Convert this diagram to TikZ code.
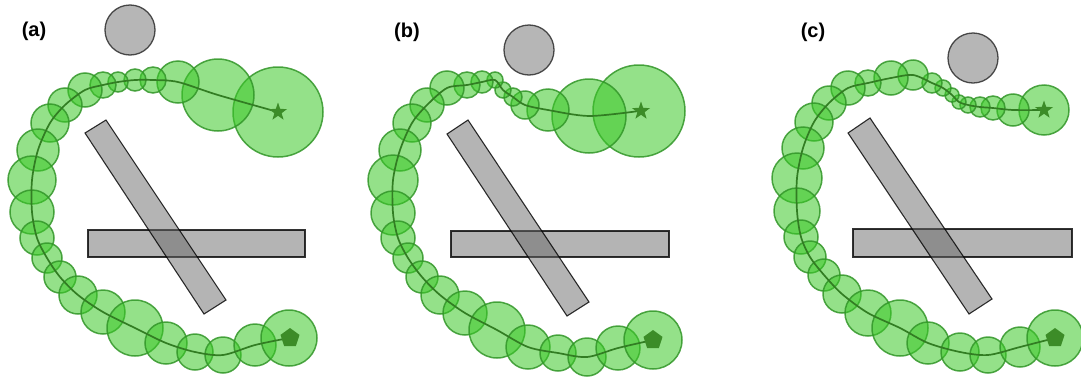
\documentclass[tikz,border=0pt]{standalone}
\usepackage{fontspec}
\setmainfont{Liberation Sans}
\usetikzlibrary{shapes.geometric}
\definecolor{gfill}{RGB}{60,200,40}
\definecolor{gedge}{RGB}{50,150,40}
\definecolor{gline}{RGB}{50,125,35}
\definecolor{gmark}{RGB}{60,140,40}
\definecolor{rfill}{RGB}{105,105,105}
\definecolor{cfill}{RGB}{182,182,182}
\definecolor{cedge}{RGB}{70,70,70}
\tikzset{
  bead/.style={fill=gfill,fill opacity=0.55,draw=gedge,draw opacity=0.85,line width=1.5},
  spine/.style={draw=gline,line width=1.7},
  bar/.style={fill=rfill,fill opacity=0.5,draw=black,draw opacity=0.8,line width=1.1},
  ball/.style={fill=cfill,draw=cedge,line width=1.3},
  startmark/.style={star,star points=5,star point ratio=2.5,fill=gmark,inner sep=0pt,minimum size=19},
  goalmark/.style={regular polygon,regular polygon sides=5,fill=gmark,inner sep=0pt,minimum size=20},
  lbl/.style={font=\fontsize{20}{22}\selectfont\bfseries,inner sep=0pt}
}
\begin{document}
\begin{tikzpicture}[x=1pt,y=-1pt]
\useasboundingbox (0,0) rectangle (1081,378);
% ---------------- panel (a)
\node[lbl] (la) at (34,31) {(a)};
\draw[ball] (130,30) circle (25);
\draw[bar] (88,230) rectangle (305,257);
\draw[bar] (85,133) -- (106,120) -- (226,300) -- (204,314) -- cycle;
\foreach \x/\y/\r in {278/112/45,218/95/36,178/82/21,153/80/13,135/80/11,118/82/10,103/85/13,85/90/17,65/105/17,50/123/19,38/150/21,32/180/24,32/212/22,37/238/17,47/258/15,60/277/16,78/295/19,103/312/22,135/328/28,166/343/21,195/352/18,223/355/18,255/345/21,289/338/28}
  \draw[bead] (\x,\y) circle (\r);
\draw[spine] plot[smooth] coordinates {(278,112) (218,95) (178,82) (153,80) (135,80) (118,82) (103,85) (85,90) (65,105) (50,123) (38,150) (32,180) (32,212) (37,238) (47,258) (60,277) (78,295) (103,312) (135,328) (166,343) (195,352) (223,355) (255,345) (289,338)};
\node[startmark] (sa) at (278,112) {};
\node[goalmark] (ga) at (290,338) {};
% ---------------- panel (b)
\node[lbl] (lb) at (407,32) {(b)};
\draw[ball] (529,50) circle (25);
\draw[bar] (451,231) rectangle (669,257);
\draw[bar] (447,134) -- (468,120) -- (589,302) -- (567,316) -- cycle;
\foreach \x/\y/\r in {639/111/46,589/116/37,548/110/21,525/105/14,513/97/9,503/90/8,495/80/8,482/82/11,467/85/13,447/88/17,427/105/17,412/123/19,400/150/21,393/180/25,393/213/22,398/238/17,408/258/15,422/277/16,440/295/19,465/313/22,497/330/28,528/347/22,558/353/18,587/357/19,618/348/22,653/340/29}
  \draw[bead] (\x,\y) circle (\r);
\draw[spine] plot[smooth] coordinates {(639,111) (589,116) (548,110) (525,105) (513,97) (503,90) (495,80) (482,82) (467,85) (447,88) (427,105) (412,123) (400,150) (393,180) (393,213) (398,238) (408,258) (422,277) (440,295) (465,313) (497,330) (528,347) (558,353) (587,357) (618,348) (653,340)};
\node[startmark] (sb) at (641,111) {};
\node[goalmark] (gb) at (653,340) {};
% ---------------- panel (c)
\node[lbl] (lc) at (813,32) {(c)};
\draw[ball] (973,58) circle (25);
\draw[bar] (853,229) rectangle (1072,257);
\draw[bar] (848,133) -- (870,118) -- (992,299) -- (969,314) -- cycle;
\foreach \x/\y/\r in {1044/110/25,1013/110/16,993/108/12,980/107/10,968/105/8,959/102/7,952/95/7,943/88/8,932/83/10,913/75/15,891/78/17,868/83/13,848/88/17,829/103/17,814/122/19,803/148/21,797/178/25,797/211/23,801/237/17,810/257/16,824/275/16,842/294/19,868/313/23,900/328/28,928/343/21,960/352/19,988/355/18,1020/347/20,1055/338/28}
  \draw[bead] (\x,\y) circle (\r);
\draw[spine] plot[smooth] coordinates {(1044,110) (1013,110) (993,108) (980,107) (968,105) (959,102) (952,95) (943,88) (932,83) (913,75) (891,78) (868,83) (848,88) (829,103) (814,122) (803,148) (797,178) (797,211) (801,237) (810,257) (824,275) (842,294) (868,313) (900,328) (928,343) (960,352) (988,355) (1020,347) (1055,338)};
\node[startmark] (sc) at (1044,110) {};
\node[goalmark] (gc) at (1055,338) {};
\end{tikzpicture}
\end{document}
